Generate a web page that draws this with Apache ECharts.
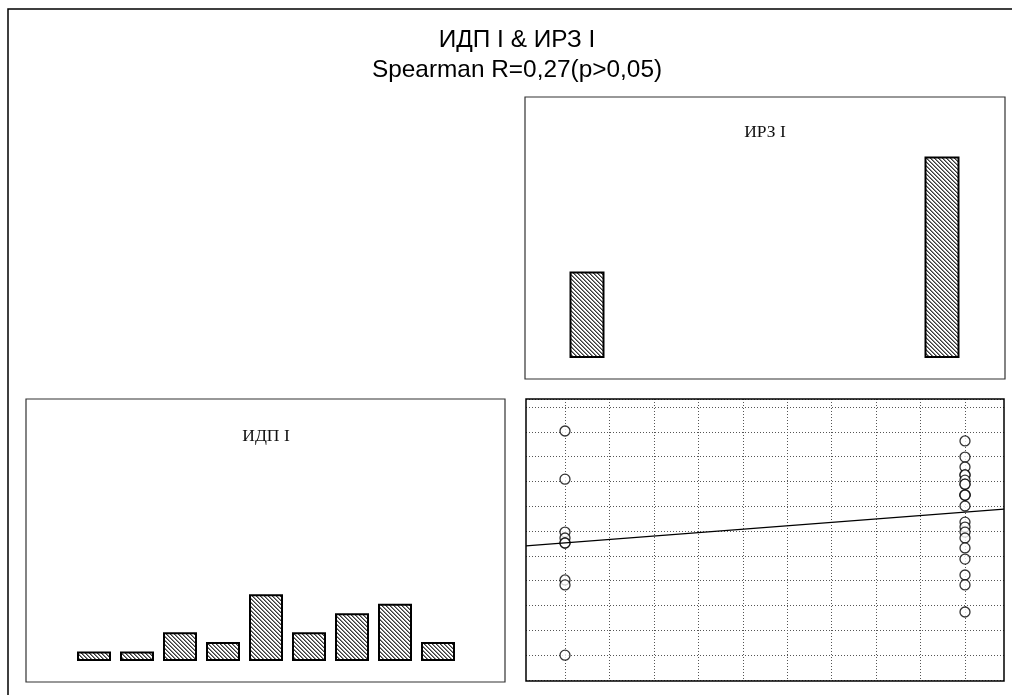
<!DOCTYPE html>
<html><head><meta charset="utf-8">
<script src="https://cdn.jsdelivr.net/npm/echarts@6/dist/echarts.min.js"></script>
<style>html,body{margin:0;padding:0;background:#fff}#c{width:1012px;height:695px}</style>
</head><body><div id="c"></div>
<script>
// ---- data ----
const titleMain = 'ИДП I & ИРЗ I';
const titleSub = 'Spearman R=0,27(p>0,05)';
const idpTitle = 'ИДП I';
const irzTitle = 'ИРЗ I';
const idpBins = ['1','2','3','4','5','6','7','8','9'];
const idpCounts = [1, 1, 3, 2, 7, 3, 5, 6, 2];
const irzValues = [0, 1];
const irzCounts = [9, 21];
// ИДП I values (scatter y) for ИРЗ I = first / second value
const idpAtIrzLow = [10.03, 8.09, 5.96, 5.72, 5.52, 5.52, 4.03, 3.83, 1.00];
const idpAtIrzHigh = [9.63, 8.98, 8.58, 8.26, 8.26, 8.05, 7.89, 7.89, 7.45, 7.45, 7.45,
                      7.01, 6.36, 6.16, 5.96, 5.72, 5.32, 4.87, 4.23, 3.83, 2.74];

// ---- build ----
const pts = idpAtIrzLow.map(v => [irzValues[0], v]).concat(idpAtIrzHigh.map(v => [irzValues[1], v]));
const n = pts.length;
const mx = pts.reduce((s, p) => s + p[0], 0) / n;
const my = pts.reduce((s, p) => s + p[1], 0) / n;
let sxy = 0, sxx = 0;
pts.forEach(p => { sxy += (p[0] - mx) * (p[1] - my); sxx += (p[0] - mx) * (p[0] - mx); });
const slope = sxy / sxx, icpt = my - slope * mx;
const xMin = -0.0975, xMax = 1.0975;
const fitLine = [[xMin, icpt + slope * xMin], [xMax, icpt + slope * xMax]];

const pc = document.createElement('canvas'); pc.width = 4; pc.height = 4;
const cx = pc.getContext('2d');
cx.fillStyle = '#ffffff'; cx.fillRect(0, 0, 4, 4);
for (let y = 0; y < 4; y++) for (let x = 0; x < 4; x++) {
  const k = (((x - y) % 4) + 4) % 4;
  if (k === 0) { cx.fillStyle = '#3a3a3a'; cx.fillRect(x, y, 1, 1); }
  else if (k === 1) { cx.fillStyle = '#8a8a8a'; cx.fillRect(x, y, 1, 1); }
}
const hatch = { image: pc, repeat: 'repeat' };

const dotted = { show: true, lineStyle: { color: '#555', width: 1, type: [1, 2] } };
const noAx = { axisLine: { show: false }, axisTick: { show: false }, axisLabel: { show: false } };
const sans = 'Liberation Sans, Arial, sans-serif';
const serif = 'Liberation Serif, Times New Roman, serif';

const chart = echarts.init(document.getElementById('c'));
chart.setOption({
  animation: false,
  backgroundColor: '#fff',
  title: [
    { text: titleMain, left: 517, top: 28.5, textAlign: 'center', padding: 0,
      textStyle: { fontFamily: sans, fontSize: 24.4, fontWeight: 'normal', color: '#000' } },
    { text: titleSub, left: 517, top: 58, textAlign: 'center', padding: 0,
      textStyle: { fontFamily: sans, fontSize: 24.4, fontWeight: 'normal', color: '#000' } },
    { text: irzTitle, left: 765, top: 123.5, textAlign: 'center', padding: 0,
      textStyle: { fontFamily: serif, fontSize: 17.5, fontWeight: 'normal', color: '#111' } },
    { text: idpTitle, left: 266, top: 427, textAlign: 'center', padding: 0,
      textStyle: { fontFamily: serif, fontSize: 17.5, fontWeight: 'normal', color: '#111' } }
  ],
  grid: [
    { left: 72.5, right: 552.5, top: 470, bottom: 34 },
    { left: 551.5, right: 34.5, top: 118, bottom: 337 },
    { left: 526, right: 8, top: 399, bottom: 15 },
    { left: 565, right: 47, top: 399, bottom: 15 }
  ],
  xAxis: [
    { type: 'category', gridIndex: 0, data: idpBins, show: false },
    { type: 'value', gridIndex: 1, min: -0.1, max: 1.1, show: false },
    Object.assign({ type: 'value', gridIndex: 2, min: xMin, max: xMax, splitLine: { show: false } }, noAx),
    Object.assign({ type: 'value', gridIndex: 3, min: 0, max: 9, interval: 1, splitLine: dotted }, noAx)
  ],
  yAxis: [
    { type: 'value', gridIndex: 0, min: 0, max: 20, show: false },
    { type: 'value', gridIndex: 1, min: 0, max: 25, show: false },
    Object.assign({ type: 'value', gridIndex: 2, min: 0, max: 11.32, interval: 1, splitLine: dotted }, noAx),
    { type: 'value', gridIndex: 3, min: 0, max: 1, show: false }
  ],
  series: [
    { type: 'bar', xAxisIndex: 0, yAxisIndex: 0, data: idpCounts, barWidth: 34,
      itemStyle: { color: hatch, borderColor: '#000', borderWidth: 2 } },
    { type: 'bar', xAxisIndex: 1, yAxisIndex: 1, data: irzValues.map((v, i) => [v, irzCounts[i]]), barWidth: 35,
      clip: false, itemStyle: { color: hatch, borderColor: '#000', borderWidth: 2 } },
    { type: 'scatter', xAxisIndex: 2, yAxisIndex: 2, data: pts, symbol: 'circle', symbolSize: 10,
      itemStyle: { color: '#fff', borderColor: '#000', borderWidth: 1.3 } },
    { type: 'line', xAxisIndex: 2, yAxisIndex: 2, data: fitLine, symbol: 'none',
      lineStyle: { color: '#000', width: 1.3 } }
  ],
  graphic: [
    { type: 'rect', z: 100, silent: true, shape: { x: 8, y: 9, width: 1100, height: 800 },
      style: { fill: null, stroke: '#000', lineWidth: 1.5 } },
    { type: 'rect', z: 100, silent: true, shape: { x: 525, y: 97, width: 480, height: 282 },
      style: { fill: null, stroke: '#333', lineWidth: 1.2 } },
    { type: 'rect', z: 100, silent: true, shape: { x: 26, y: 399, width: 479, height: 283 },
      style: { fill: null, stroke: '#333', lineWidth: 1.2 } },
    { type: 'rect', z: 100, silent: true, shape: { x: 526, y: 399, width: 478, height: 282 },
      style: { fill: null, stroke: '#000', lineWidth: 1.5 } }
  ]
});
</script></body></html>
